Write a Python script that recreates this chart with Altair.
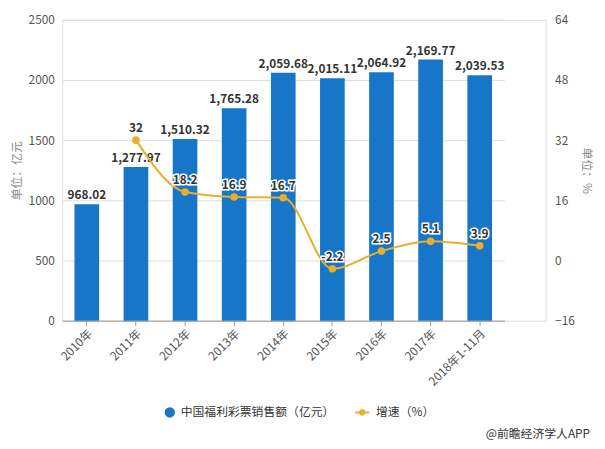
import altair as alt
import pandas as pd

years = ["2010年", "2011年", "2012年", "2013年", "2014年", "2015年", "2016年", "2017年", "2018年1-11月"]
sales = [968.02, 1277.97, 1510.32, 1765.28, 2059.68, 2015.11, 2064.92, 2169.77, 2039.53]
growth = [None, 32, 18.2, 16.9, 16.7, -2.2, 2.5, 5.1, 3.9]

sales_labels = [f"{v:,.2f}" for v in sales]
growth_labels = ["" if g is None else (f"{g:g}") for g in growth]

df = pd.DataFrame({"year": years, "sales": sales, "slab": sales_labels,
                   "growth": growth, "glab": growth_labels})
dfg = df.dropna(subset=["growth"])

FONT = "Noto Sans CJK SC"
BLUE = "#1776c8"
GOLD = "#e8ae2e"

xenc = alt.X("year:N", sort=years, title=None,
             scale=alt.Scale(range=[0, 448], paddingInner=0.5, paddingOuter=0.25),
             axis=alt.Axis(labelAngle=-45, labelFontSize=12, labelColor="#555",
                           labelFont=FONT, domainColor="#999", tickColor="#999",
                           tickSize=5, labelPadding=2))

yleft = alt.Y("sales:Q", title="单位：亿元",
              scale=alt.Scale(domain=[0, 2500]),
              axis=alt.Axis(values=[0, 500, 1000, 1500, 2000, 2500], grid=True,
                            format="d",
                            gridColor="#dcdcdc", domain=False, ticks=False,
                            labelFontSize=12, labelColor="#555", labelFont=FONT,
                            labelPadding=8, titleFont=FONT, titleFontSize=12,
                            titleFontWeight="normal", titleColor="#888",
                            titlePadding=5))

yright = alt.Y("growth:Q", title="单位：%",
               scale=alt.Scale(domain=[-16, 64]),
               axis=alt.Axis(values=[-16, 0, 16, 32, 48, 64], grid=False,
                             domain=False, ticks=False, orient="right",
                             labelFontSize=12, labelColor="#555", labelFont=FONT,
                             labelPadding=9, titleFont=FONT, titleFontSize=12,
                             titleFontWeight="normal", titleColor="#888",
                             titlePadding=5))

bars = alt.Chart(df).mark_bar(color=BLUE, width=25).encode(x=xenc, y=yleft)
bar_text = alt.Chart(df).mark_text(dy=-9, fontSize=12, fontWeight="bold",
                                   color="#333", font=FONT).encode(
    x=xenc, y=yleft, text="slab:N")

left = alt.layer(bars, bar_text)

line = alt.Chart(dfg).mark_line(color=GOLD, strokeWidth=2, interpolate="monotone").encode(
    x=xenc, y=yright)
pts = alt.Chart(dfg).mark_point(filled=True, size=60, color=GOLD, opacity=1).encode(
    x=xenc, y=yright)
halo = alt.Chart(dfg).mark_text(dy=-12, fontSize=12, fontWeight="bold", color="#333",
                                stroke="white", strokeWidth=3, font=FONT).encode(
    x=xenc, y=yright, text="glab:N")
gtext = alt.Chart(dfg).mark_text(dy=-12, fontSize=12, fontWeight="bold", color="#333",
                                 font=FONT).encode(
    x=xenc, y=yright, text="glab:N")

right = alt.layer(line, pts, halo, gtext)

# legend
leg_df = pd.DataFrame({"a": [0]})
leg_circle = alt.Chart(leg_df).mark_circle(color=BLUE, size=110, opacity=1).encode(
    x=alt.value(109), y=alt.value(398))
leg_t1 = alt.Chart(leg_df).mark_text(align="left", baseline="middle", fontSize=12,
                                     color="#333", font=FONT,
                                     text="中国福利彩票销售额（亿元）").encode(
    x=alt.value(120), y=alt.value(398))
leg_line = alt.Chart(leg_df).mark_rule(color=GOLD, strokeWidth=2).encode(
    x=alt.value(297), x2=alt.value(311), y=alt.value(398))
leg_dot = alt.Chart(leg_df).mark_circle(color=GOLD, size=40, opacity=1).encode(
    x=alt.value(304), y=alt.value(398))
leg_t2 = alt.Chart(leg_df).mark_text(align="left", baseline="middle", fontSize=12,
                                     color="#333", font=FONT, text="增速（%）").encode(
    x=alt.value(318), y=alt.value(398))
src = alt.Chart(leg_df).mark_text(align="right", baseline="middle", fontSize=12,
                                  color="#333", font=FONT, text="@前瞻经济学人APP").encode(
    x=alt.value(535), y=alt.value(420))

legend = alt.layer(leg_circle, leg_t1, leg_line, leg_dot, leg_t2, src)

chart = alt.layer(left, right, legend).resolve_scale(y="independent").properties(
    width=490, height=305,
    padding={"left": 55, "top": 9, "right": 52, "bottom": 120},
    autosize=alt.AutoSizeParams(type="none"),
).configure_view(stroke=None).configure(background="white")

chart.save("out.html", embed_options={"renderer": "svg", "actions": False})
